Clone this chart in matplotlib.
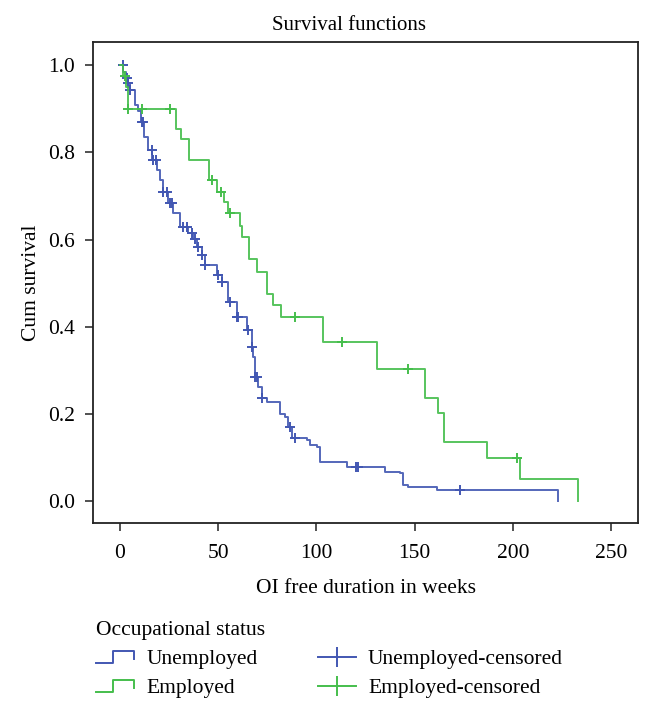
import numpy as np
import matplotlib
matplotlib.use("Agg")
import matplotlib.pyplot as plt
from matplotlib.lines import Line2D
from matplotlib.legend_handler import HandlerBase

plt.rcParams['font.family'] = ['Liberation Serif', 'DejaVu Serif']

# ---- data ----
unemp_times = [1.5, 3.0, 4.2, 5.1, 7.6, 9.3, 10.7, 12.4, 14.4, 16.4, 18.7, 20.4, 22.0, 24.6,
               27.1, 30.5, 34.8, 37.3, 39.1, 41.6, 43.3, 49.2, 51.8, 55.1, 59.4, 64.5, 67.1,
               67.9, 68.7, 70.4, 72.1, 74.7, 81.5, 84.0, 85.7, 87.4, 95.0, 96.7, 100.2, 101.8,
               115.4, 134.9, 142.6, 144.2, 146.8, 161.2, 223.0]
unemp_surv = [0.985, 0.97, 0.958, 0.943, 0.908, 0.895, 0.87, 0.836, 0.805, 0.782, 0.759, 0.736,
              0.709, 0.683, 0.66, 0.629, 0.614, 0.602, 0.583, 0.564, 0.541, 0.518, 0.503, 0.457,
              0.423, 0.392, 0.354, 0.331, 0.285, 0.262, 0.236, 0.228, 0.201, 0.193, 0.171, 0.144,
              0.14, 0.128, 0.125, 0.09, 0.079, 0.067, 0.064, 0.037, 0.033, 0.025, 0.0]
unemp_censored = [1.4, 3.5, 4.2, 5.1, 11.0, 11.9, 16.1, 16.9, 18.3, 22.0, 23.8, 25.5, 26.3,
                  32.2, 34.0, 36.5, 38.2, 39.9, 41.6, 43.3, 50.0, 51.8, 56.0, 59.4, 60.2, 65.3,
                  67.1, 68.7, 69.6, 72.1, 86.6, 89.1, 120.0, 121.3, 173.1]

emp_times = [1.5, 3.0, 4.2, 28.5, 31.0, 35.0, 45.5, 49.5, 53.0, 55.1, 61.0, 62.0, 65.9, 69.6,
             74.7, 78.0, 82.0, 103.2, 131.0, 155.0, 161.7, 165.0, 186.7, 203.7, 233.0]
emp_surv = [0.975, 0.95, 0.9, 0.853, 0.83, 0.782, 0.736, 0.709, 0.687, 0.66, 0.631, 0.605,
            0.555, 0.526, 0.475, 0.45, 0.423, 0.365, 0.304, 0.237, 0.203, 0.135, 0.1, 0.05, 0.0]
emp_censored = [2.5, 4.2, 11.5, 25.5, 46.7, 51.3, 56.0, 89.0, 113.0, 146.8, 202.0]

x_ticks = [0, 50, 100, 150, 200, 250]
y_ticks = [0.0, 0.2, 0.4, 0.6, 0.8, 1.0]

labels = ["Unemployed", "Employed", "Unemployed-censored", "Employed-censored"]
c_blue = "#4257B2"
c_green = "#45BE4C"

FS = 15.5


def surv_at(times, surv, t):
    times = np.asarray(times)
    surv = np.asarray(surv)
    idx = np.searchsorted(times, t, side='right')
    full = np.concatenate([[1.0], surv])
    return full[idx]


fig = plt.figure(figsize=(6.5, 7.13), dpi=100)
ax = fig.add_axes([0.143, 0.2665, 0.839, 0.6745])

for times, surv, cens, col, ms in [(unemp_times, unemp_surv, unemp_censored, c_blue, 7.5),
                                   (emp_times, emp_surv, emp_censored, c_green, 6.5)]:
    t = np.concatenate([[0.0], times])
    s = np.concatenate([[1.0], surv])
    ax.step(t, s, where='post', color=col, lw=1.4, alpha=0.9)
    cy = surv_at(times, surv, np.asarray(cens))
    ax.plot(cens, cy, ls='none', marker='+', ms=ms, mew=1.4, color=col)

ax.set_xlim(-13.7, 263.7)
ax.set_ylim(-0.05, 1.053)
ax.set_xticks(x_ticks)
ax.set_yticks(y_ticks)
ax.set_yticklabels([f"{v:.1f}" for v in y_ticks])
ax.tick_params(direction='out', length=6, width=1.1, labelsize=FS, pad=7, color='#222222')
ax.tick_params(axis='x', pad=9)
for sp in ax.spines.values():
    sp.set_linewidth(1.3)
    sp.set_color('#222222')

fig.text(272 / 650, 1 - 30 / 713, "Survival functions", fontsize=15, ha='left', va='baseline')
ax.set_xlabel("OI free duration in weeks", fontsize=FS, labelpad=12)
ax.set_ylabel("Cum survival", fontsize=FS, labelpad=5)


class StepHandler(HandlerBase):
    def create_artists(self, legend, orig_handle, xdescent, ydescent, width, height,
                       fontsize, trans):
        xs = np.array([0, 0.45, 0.45, 1, 1]) * width - xdescent
        ys = np.array([0.05, 0.05, 0.85, 0.85, 0.35]) * height - ydescent
        ln = Line2D(xs, ys, color=orig_handle.get_color(), lw=orig_handle.get_linewidth(),
                    transform=trans)
        return [ln]


h_u = Line2D([], [], color=c_blue, lw=1.4)
h_e = Line2D([], [], color=c_green, lw=1.4)
h_uc = Line2D([], [], color=c_blue, lw=1.4, marker='|', ms=15, mew=1.4)
h_ec = Line2D([], [], color=c_green, lw=1.4, marker='|', ms=15, mew=1.4)

leg = fig.legend([h_u, h_e, h_uc, h_ec], labels, loc='upper left',
                 bbox_to_anchor=(0.148, 0.129), ncol=2, frameon=False,
                 title="Occupational status", title_fontsize=FS, fontsize=FS,
                 handlelength=1.77, handletextpad=0.56, columnspacing=2.8,
                 labelspacing=0.42, borderpad=0, borderaxespad=0, alignment='left',
                 handler_map={h_u: StepHandler(), h_e: StepHandler()})

fig.savefig("out.png", dpi=100)
